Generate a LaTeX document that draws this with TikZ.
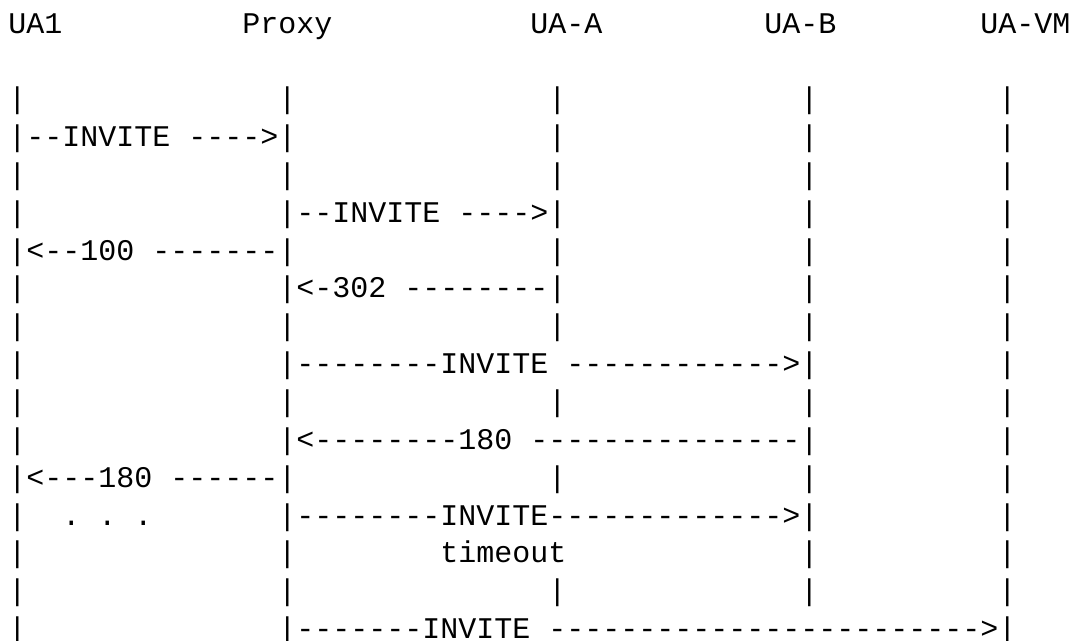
\documentclass[tikz,border=0pt]{standalone}
\usepackage{fontspec}
\setmonofont{Liberation Mono}
\newcommand\asciiseg[4]{\node[txt] (#1) at (#2,#3) {#4};}
\begin{document}
\begin{tikzpicture}[x=13.5pt,y=-28.3875pt,
  txt/.style={font=\ttfamily\fontsize{22.5pt}{27pt}\selectfont, inner sep=0pt, anchor=base west, text=black}]
\useasboundingbox[fill=white] (-6pt,24.75pt) rectangle (798.75pt,-455.25pt);
% header
\asciiseg{ua1}{0}{0}{UA1}
\asciiseg{proxy}{13}{0}{Proxy}
\asciiseg{uaa}{29}{0}{UA-A}
\asciiseg{uab}{42}{0}{UA-B}
\asciiseg{uavm}{54}{0}{UA-VM}
% rows of plain bars
\foreach \r in {2,4,8,10,15}
  \foreach \c in {0,15,30,44,55}
    {\node[txt] (bar-\r-\c) at (\c,\r) {|};}
% row 3
\asciiseg{m3}{0}{3}{|--INVITE ---->|}
\foreach \c in {30,44,55} {\node[txt] (bar-3-\c) at (\c,3) {|};}
% row 5
\asciiseg{bar-5-0}{0}{5}{|}
\asciiseg{m5}{15}{5}{|--INVITE ---->|}
\foreach \c in {44,55} {\node[txt] (bar-5-\c) at (\c,5) {|};}
% row 6
\asciiseg{m6}{0}{6}{|<--100 -------|}
\foreach \c in {30,44,55} {\node[txt] (bar-6-\c) at (\c,6) {|};}
% row 7
\asciiseg{bar-7-0}{0}{7}{|}
\asciiseg{m7}{15}{7}{|<-302 --------|}
\foreach \c in {44,55} {\node[txt] (bar-7-\c) at (\c,7) {|};}
% row 9
\asciiseg{bar-9-0}{0}{9}{|}
\asciiseg{m9}{15}{9}{|--------INVITE ------------>|}
\asciiseg{bar-9-55}{55}{9}{|}
% row 11
\asciiseg{bar-11-0}{0}{11}{|}
\asciiseg{m11}{15}{11}{|<--------180 ---------------|}
\asciiseg{bar-11-55}{55}{11}{|}
% row 12
\asciiseg{m12}{0}{12}{|<---180 ------|}
\foreach \c in {30,44,55} {\node[txt] (bar-12-\c) at (\c,12) {|};}
% row 13
\asciiseg{bar-13-0}{0}{13}{|}
\asciiseg{dots}{3}{13}{. . .}
\asciiseg{m13}{15}{13}{|--------INVITE------------->|}
\asciiseg{bar-13-55}{55}{13}{|}
% row 14
\foreach \c in {0,15,44,55} {\node[txt] (bar-14-\c) at (\c,14) {|};}
\asciiseg{timeout}{24}{14}{timeout}
% row 16
\asciiseg{bar-16-0}{0}{16}{|}
\asciiseg{m16}{15}{16}{|-------INVITE ------------------------>|}
\end{tikzpicture}
\end{document}
